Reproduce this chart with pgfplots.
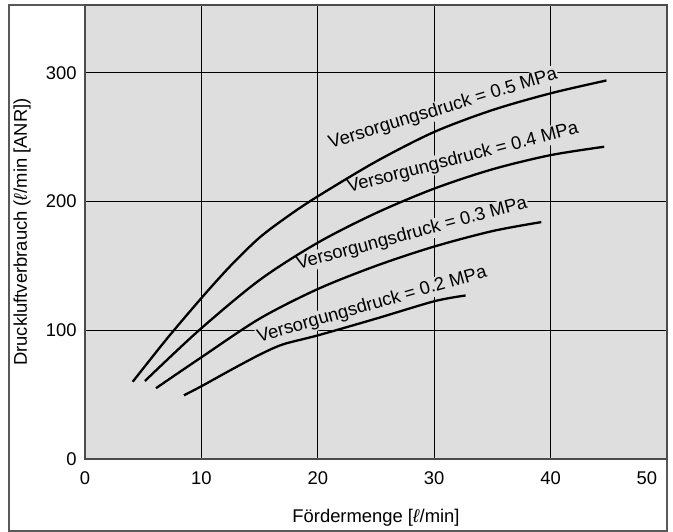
\documentclass[border=0pt]{standalone}
\usepackage{fontspec}
\setmainfont{Liberation Sans}
\usepackage{pgfplots}
\pgfplotsset{compat=1.18}
\begin{document}
\fontsize{18.4bp}{22bp}\selectfont
\begin{tikzpicture}
\useasboundingbox (-85bp,-73bp) rectangle (588bp,459bp);
\draw[black!65, line width=1.3bp] (-76bp,-72bp) rectangle (582bp,454bp);
\begin{axis}[
  at={(0,0)}, anchor=south west,
  scale only axis, width=582bp, height=454bp,
  xmin=0, xmax=50, ymin=0, ymax=352.6,
  xtick={0,10,20,30,40,50}, ytick={0,100,200,300},
  xticklabels={0,10,20,30,40,\llap{50\hspace{10bp}}},
  major tick length=0pt,
  grid=major,
  major grid style={black, line width=0.9bp},
  axis line style={black!70, line width=1.3bp},
  axis background/.style={fill=black!13},
  /pgf/number format/assume math mode=true,
  tick label style={font=\fontsize{18.4bp}{22bp}\selectfont},
  yticklabel style={anchor=east, inner sep=0pt, xshift=-8.3bp},
  xticklabel style={anchor=north, inner sep=0pt, yshift=-12.5bp},
  xlabel={Fördermenge [\textit{ℓ}/min]},
  ylabel={Druckluftverbrauch (\textit{ℓ}/min [ANR])},
  label style={font=\fontsize{18.4bp}{22bp}\selectfont},
  xlabel style={at={(axis description cs:0.5,-0.13)}, anchor=center},
  ylabel style={at={(axis description cs:-0.108,0.5)}, anchor=center},
  curve/.style={black, line width=2.3bp, smooth, no marks},
]
\node[rotate=17, fill=black!13, inner sep=1bp] at (axis cs:30.76,271.8) {Versorgungsdruck = 0.5 MPa};
\node[rotate=14.5, fill=black!13, inner sep=1bp] at (axis cs:32.47,233.7) {Versorgungsdruck = 0.4 MPa};
\node[rotate=15, fill=black!13, inner sep=1bp] at (axis cs:28.09,174.7) {Versorgungsdruck = 0.3 MPa};
\node[rotate=16, fill=black!13, inner sep=1bp] at (axis cs:24.66,119.6) {Versorgungsdruck = 0.2 MPa};
% 0.5 MPa
\addplot[curve] coordinates {(4.1,60) (7,93) (10,125) (12.5,150) (15,172) (17.5,189) (20,204) (25,231) (30,254) (35,271) (40,284) (44.8,294)};
% 0.4 MPa
\addplot[curve] coordinates {(5.15,60.6) (9.8,100) (15,139) (20,168) (25,191) (30,210) (35,225) (40,236) (44.6,242.5)};
% 0.3 MPa
\addplot[curve] coordinates {(6.1,55) (10,79) (15,109) (20,132) (25,150) (30,165) (35,177) (39.2,184)};
% 0.2 MPa
\addplot[curve] coordinates {(8.5,49.5) (10,56.5) (12.5,69) (15,81) (17,89) (20,96) (25,109) (30,122.5) (32.7,127)};
\end{axis}
\end{tikzpicture}
\end{document}
